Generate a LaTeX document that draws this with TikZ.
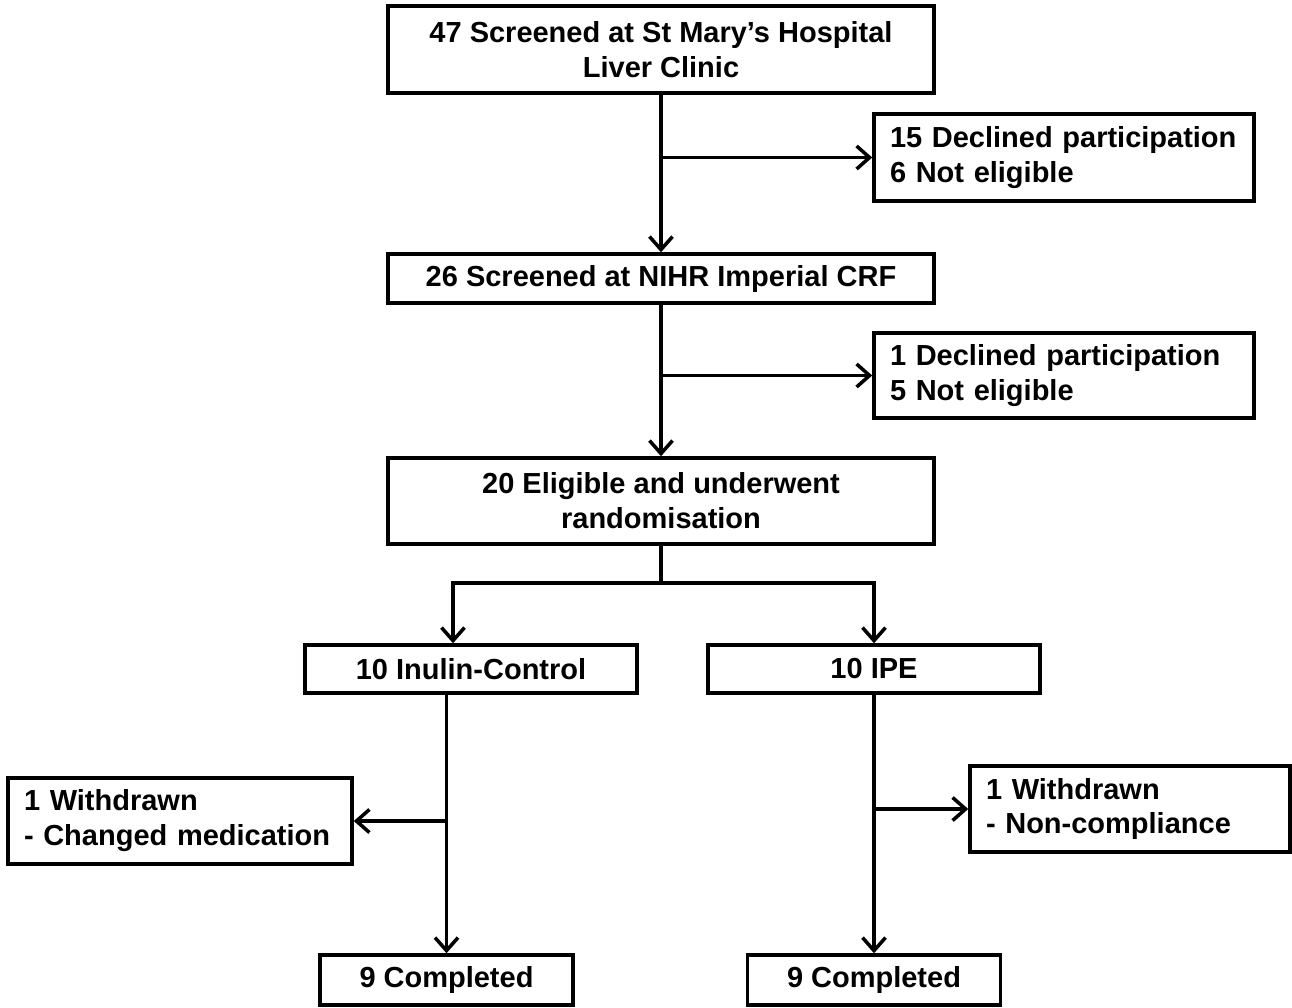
\documentclass[tikz,border=0pt]{standalone}
\usepackage{fontspec}
\setmainfont{Liberation Sans}
\usetikzlibrary{arrows.meta}

\begin{document}
\begin{tikzpicture}[
            box/.style={draw, line width=2pt, inner sep=0pt, align=center, font=\fontsize{16.5pt}{19.9pt}\selectfont\bfseries},
            sidebox/.style={box, align=left, inner xsep=0.32cm},
            arr/.style={line width=2pt, -{Straight Barb[length=2.6mm,width=4.6mm]}},
            line/.style={line width=2pt}]
            \useasboundingbox (0,0) rectangle (25.84,-20.14);
            \node[box, minimum width=10.92cm, minimum height=1.74cm] (screen) at (13.22,-0.99) {47 Screened at St Mary's Hospital\\Liver Clinic};
            \node[sidebox, minimum width=7.6cm, minimum height=1.74cm, text width=6.96cm] (declA) at (21.28,-3.15) {15 Declined participation\\6 Not eligible};
            \node[box, minimum width=10.92cm, minimum height=0.98cm] (crf) at (13.22,-5.57) {26 Screened at NIHR Imperial CRF};
            \node[sidebox, minimum width=7.6cm, minimum height=1.7cm, text width=6.96cm] (declB) at (21.28,-7.51) {1 Declined participation\\5 Not eligible};
            \node[box, minimum width=10.92cm, minimum height=1.72cm] (rand) at (13.22,-10.02) {20 Eligible and underwent\\randomisation};
            \node[box, minimum width=6.64cm, minimum height=0.96cm] (inulin) at (9.42,-13.38) {10 Inulin-Control};
            \node[box, minimum width=6.64cm, minimum height=0.96cm] (ipe) at (17.48,-13.38) {10 IPE};
            \node[sidebox, minimum width=6.88cm, minimum height=1.72cm, text width=6.24cm] (wdInulin) at (3.6,-16.42) {1 Withdrawn\\- Changed medication};
            \node[sidebox, minimum width=6.4cm, minimum height=1.72cm, text width=5.76cm] (wdIpe) at (22.6,-16.18) {1 Withdrawn\\- Non-compliance};
            \node[box, minimum width=5.06cm, minimum height=1.0cm] (doneInulin) at (8.93,-19.6) {9 Completed};
            \node[box, minimum width=5.06cm, minimum height=1.0cm] (doneIpe) at (17.48,-19.6) {9 Completed};
            \coordinate (split) at (13.22,-11.66);
            \coordinate (inulinIn) at ([xshift=-0.36cm]inulin.north);
            \draw[arr] (screen) -- (crf);
            \draw[arr] (screen |- declA) -- (declA);
            \draw[arr] (crf) -- (rand);
            \draw[arr] (crf |- declB) -- (declB);
            \draw[line] (rand) -- (split);
            \draw[arr] (split) -| (inulinIn);
            \draw[arr] (split) -| (ipe);
            \draw[arr] (doneInulin |- inulin.south) -- (doneInulin);
            \draw[arr] (doneInulin |- wdInulin) -- (wdInulin);
            \draw[arr] (ipe) -- (doneIpe);
            \draw[arr] (ipe |- wdIpe) -- (wdIpe);
\end{tikzpicture}
\end{document}
